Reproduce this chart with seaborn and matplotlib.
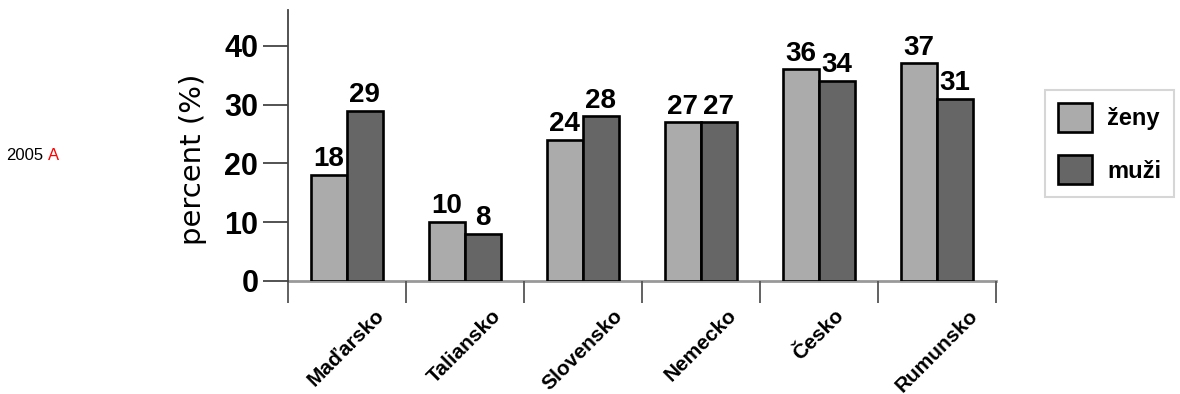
import matplotlib
matplotlib.use("Agg")
import matplotlib.pyplot as plt
from matplotlib.patches import Patch
import seaborn as sns
import pandas as pd

# Data
countries = ["Maďarsko", "Taliansko", "Slovensko", "Nemecko", "Česko", "Rumunsko"]
zeny = [18, 10, 24, 27, 36, 37]
muzi = [29, 8, 28, 27, 34, 31]
series_names = ["ženy", "muži"]
y_ticks = [0, 10, 20, 30, 40]
colors = ["#ababab", "#666666"]

df = pd.DataFrame({
    "krajina": countries * 2,
    "pohlavie": [series_names[0]] * len(countries) + [series_names[1]] * len(countries),
    "percent": zeny + muzi,
})

sns.set_theme(style="white")
plt.rcParams["font.family"] = ["Liberation Sans", "DejaVu Sans"]
plt.rcParams["text.color"] = "black"
plt.rcParams["axes.labelcolor"] = "black"
plt.rcParams["xtick.color"] = "black"
plt.rcParams["ytick.color"] = "black"

fig = plt.figure(figsize=(11.8, 3.94), dpi=100)
ax = fig.add_axes([287.5 / 1180, (394 - 281) / 394, (996 - 287.5) / 1180, (281 - 10) / 394])

sns.barplot(
    data=df, x="krajina", y="percent", hue="pohlavie",
    order=countries, hue_order=series_names, palette=colors,
    width=0.61, edgecolor="black", linewidth=1.9, saturation=1,
    legend=False, ax=ax,
)

for cont in ax.containers:
    ax.bar_label(cont, fmt="%d", padding=2, fontsize=20, fontweight="bold", color="black")

ax.set_xlim(-0.5, len(countries) - 0.5)
ax.set_ylim(0, 46.1)
ax.set_xlabel("")
ax.set_ylabel("")

# Spines
for s in ["top", "right"]:
    ax.spines[s].set_visible(False)
ax.spines["left"].set_color("#444444")
ax.spines["left"].set_linewidth(1.3)
ax.spines["bottom"].set_color("#999999")
ax.spines["bottom"].set_linewidth(2.0)
ax.spines["bottom"].set_zorder(0.5)

# Y ticks
ax.set_yticks(y_ticks)
ax.set_yticklabels([str(v) for v in y_ticks], fontsize=22, fontweight="bold", color="black")
ax.tick_params(axis="y", direction="out", length=18, width=1.3, color="#444444", pad=3, left=True)

# X ticks: boundary marks below axis, labels at category centres
n = len(countries)
ax.set_xticks([i - 0.5 for i in range(n + 1)])
ax.set_xticklabels([])
ax.tick_params(axis="x", which="major", direction="out", length=16, width=1.3, color="#555555", bottom=True)
ax.set_xticks(range(n), minor=True)
ax.set_xticklabels(countries, minor=True, rotation=45, ha="center", va="top",
                   fontsize=15, fontweight="bold", color="black")
ax.tick_params(axis="x", which="minor", length=0, pad=18)

# Axis title
fig.text(193 / 1180, 1 - 159 / 394, "percent (%)", rotation=90, ha="center", va="center",
         fontsize=21, family=["DejaVu Sans"], color="black")

# Legend
handles = [Patch(facecolor=c, edgecolor="black", linewidth=1.9) for c in colors]
leg = fig.legend(handles, series_names, loc="upper left",
                 bbox_to_anchor=(1045 / 1180, 1 - 90 / 394), bbox_transform=fig.transFigure,
                 prop={"size": 17, "weight": "bold"}, frameon=True, fancybox=False,
                 edgecolor="#cccccc", borderpad=0.55, handlelength=1.44, handleheight=1.5,
                 handletextpad=0.64, labelspacing=1.0, borderaxespad=0)
leg.get_frame().set_linewidth(1.5)
for t in leg.get_texts():
    t.set_color("black")

# Side tag
fig.text(6 / 1180, 1 - 155 / 394, "2005", ha="left", va="center", fontsize=12, color="black")
fig.text(48 / 1180, 1 - 155 / 394, "A", ha="left", va="center", fontsize=12, color="red")

fig.savefig("out.png", dpi=100)
